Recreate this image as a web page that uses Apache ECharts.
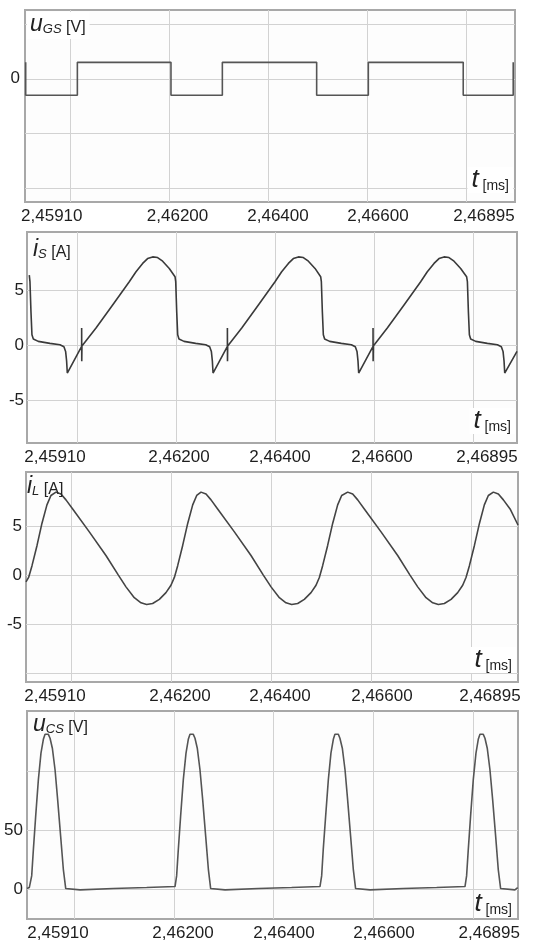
<!DOCTYPE html>
<html><head><meta charset="utf-8">
<script src="https://cdn.jsdelivr.net/npm/echarts@6/dist/echarts.min.js"></script>
<style>html,body{margin:0;padding:0;background:#fff}#c{width:547px;height:942px}</style>
</head><body><div id="c"></div>
<script>
// ---- x axis (time, in grid divisions) ----
const xTickLabels = ['2,45910', '2,46200', '2,46400', '2,46600', '2,46895'];
const xGridDivisions = [0, 1, 2, 3, 4];
const xLabelPosGS = [-0.184, 1.084, 2.097, 3.105, 4.173];
const xLabelPosIS = [-0.225, 1.027, 2.047, 3.078, 4.138];
const xLabelPosIL = [-0.160, 1.088, 2.086, 3.104, 4.182];
const xLabelPosCS = [-0.160, 1.092, 2.104, 3.106, 4.160];

// ---- y axis ticks / labels ----
const yTicksGS = [-100, -50, 0, 50];   const yLabelsGS = [0];
const yTicksIS = [-5, 0, 5];           const yLabelsIS = [-5, 0, 5];
const yTicksIL = [-10, -5, 0, 5];      const yLabelsIL = [-5, 0, 5];
const yTicksCS = [0, 50, 100];         const yLabelsCS = [0, 50];

// ---- u_GS [V] ----
const uGS_t = [-0.447, -0.447, 0.074, 0.074, 1.018, 1.018, 1.536, 1.536, 2.487, 2.487, 3.008, 3.008, 3.965, 3.965, 4.469, 4.469];
const uGS_v = [15, -15, -15, 15, 15, -15, -15, 15, 15, -15, -15, 15, 15, -15, -15, 15];

// ---- i_S [A] ----
const iS_t = [
  -0.485, -0.478, -0.468, -0.458, -0.444, -0.394, -0.276, -0.175, -0.135, -0.118, -0.108, -0.101, 0.044, 0.044, 0.045, 0.047, 0.189, 0.357, 0.525, 0.593, 0.660, 0.710, 0.761, 0.811, 0.862, 0.929, 0.987,
  0.987, 0.994, 1.004, 1.014, 1.027, 1.078, 1.196, 1.297, 1.337, 1.354, 1.364, 1.371, 1.516, 1.516, 1.517, 1.519, 1.661, 1.829, 1.997, 2.064, 2.132, 2.182, 2.233, 2.283, 2.334, 2.401, 2.458,
  2.458, 2.465, 2.475, 2.485, 2.498, 2.549, 2.667, 2.768, 2.808, 2.825, 2.835, 2.842, 2.987, 2.987, 2.988, 2.990, 3.131, 3.300, 3.468, 3.535, 3.603, 3.653, 3.704, 3.754, 3.805, 3.872, 3.932,
  3.933, 3.940, 3.950, 3.960, 3.973, 4.024, 4.142, 4.243, 4.283, 4.300, 4.310, 4.317, 4.441
];
const iS_v = [
  6.35, 5.75, 3.05, 0.96, 0.57, 0.36, 0.18, 0.06, -0.12, -0.55, -1.40, -2.50, -0.10, 1.56, -1.44, -0.05, 1.56, 3.65, 5.75, 6.65, 7.40, 7.84, 7.99, 7.93, 7.60, 6.95, 6.20,
  6.35, 5.75, 3.05, 0.96, 0.57, 0.36, 0.18, 0.06, -0.12, -0.55, -1.40, -2.50, -0.10, 1.56, -1.44, -0.05, 1.56, 3.65, 5.75, 6.65, 7.40, 7.84, 7.99, 7.93, 7.60, 6.95, 6.20,
  6.35, 5.75, 3.05, 0.96, 0.57, 0.36, 0.18, 0.06, -0.12, -0.55, -1.40, -2.50, -0.10, 1.56, -1.44, -0.05, 1.56, 3.65, 5.75, 6.65, 7.40, 7.84, 7.99, 7.93, 7.60, 6.95, 6.20,
  6.35, 5.75, 3.05, 0.96, 0.57, 0.36, 0.18, 0.06, -0.12, -0.55, -1.40, -2.50, -0.55
];

// ---- i_L [A] ----
const iL_t = [
  -0.449, -0.423, -0.389, -0.339, -0.290, -0.240, -0.200,
  -0.150, -0.100, -0.050, 0.017, 0.183, 0.349, 0.473, 0.549, 0.632, 0.699, 0.755, 0.815, 0.882, 0.948, 0.998, 1.032, 1.065, 1.115, 1.165, 1.215, 1.255,
  1.298, 1.348, 1.398, 1.464, 1.631, 1.797, 1.920, 1.997, 2.080, 2.146, 2.203, 2.263, 2.329, 2.396, 2.446, 2.479, 2.512, 2.562, 2.612, 2.662, 2.702,
  2.762, 2.812, 2.862, 2.928, 3.095, 3.261, 3.384, 3.461, 3.544, 3.611, 3.667, 3.727, 3.794, 3.860, 3.910, 3.943, 3.977, 4.027, 4.077, 4.126, 4.166,
  4.216, 4.266, 4.316, 4.383, 4.462
];
const iL_v = [
  -0.69, -0.24, 0.96, 3.02, 5.26, 7.15, 8.11,
  8.45, 8.25, 7.66, 6.74, 4.40, 1.99, 0, -1.20, -2.30, -2.82, -2.99, -2.89, -2.47, -1.79, -1.03, -0.24, 0.96, 3.02, 5.26, 7.15, 8.11,
  8.45, 8.25, 7.66, 6.74, 4.40, 1.99, 0, -1.20, -2.30, -2.82, -2.99, -2.89, -2.47, -1.79, -1.03, -0.24, 0.96, 3.02, 5.26, 7.15, 8.11,
  8.45, 8.25, 7.66, 6.74, 4.40, 1.99, 0, -1.20, -2.30, -2.82, -2.99, -2.89, -2.47, -1.79, -1.03, -0.24, 0.96, 3.02, 5.26, 7.15, 8.11,
  8.45, 8.25, 7.66, 6.74, 5.10
];

// ---- u_CS [V] ----
const uCS_t = [
  -0.471, -0.448,
  -0.441, -0.424, -0.407, -0.384, -0.357, -0.331, -0.307, -0.290, -0.274, -0.257, -0.240, -0.217, -0.190, -0.164, -0.134, -0.107, -0.083, -0.073,
  0.060, 0.394, 0.728,
  1.012, 1.028, 1.045, 1.068, 1.095, 1.122, 1.145, 1.162, 1.179, 1.195, 1.212, 1.235, 1.262, 1.289, 1.319, 1.346, 1.369, 1.379,
  1.513, 1.846, 2.180,
  2.464, 2.481, 2.497, 2.521, 2.548, 2.574, 2.598, 2.614, 2.631, 2.648, 2.664, 2.688, 2.715, 2.741, 2.771, 2.798, 2.821, 2.831,
  2.965, 3.299, 3.633,
  3.917, 3.933, 3.950, 3.973, 4.000, 4.027, 4.050, 4.067, 4.083, 4.100, 4.117, 4.140, 4.167, 4.194, 4.224, 4.250, 4.274, 4.284,
  4.417, 4.445
];
const uCS_v = [
  0.56, 1.41,
  2.25, 11.3, 33.8, 62.0, 93.0, 115.5, 127.3, 131.5, 132.4, 131.5, 128.2, 119.7, 101.4, 76.1, 45.1, 16.9, 0.56, -0.56,
  -0.56, 0.56, 1.41,
  2.25, 11.3, 33.8, 62.0, 93.0, 115.5, 127.3, 131.5, 132.4, 131.5, 128.2, 119.7, 101.4, 76.1, 45.1, 16.9, 0.56, -0.56,
  -0.56, 0.56, 1.41,
  2.25, 11.3, 33.8, 62.0, 93.0, 115.5, 127.3, 131.5, 132.4, 131.5, 128.2, 119.7, 101.4, 76.1, 45.1, 16.9, 0.56, -0.56,
  -0.56, 0.56, 1.41,
  2.25, 11.3, 33.8, 62.0, 93.0, 115.5, 127.3, 131.5, 132.4, 131.5, 128.2, 119.7, 101.4, 76.1, 45.1, 16.9, 0.56, -0.56,
  -0.56, 1.41
];

// ---- build ----
const FONT = 'Liberation Sans, Arial, sans-serif';
const zip = (t, v) => t.map((x, i) => [x, v[i]]);

const panels = [
  {grid: {left: 25, top: 10, width: 490, height: 192}, xMin: -0.454, xMax: 4.487, yMin: -112.5, yMax: 62.8,
   yTicks: yTicksGS, yLabels: yLabelsGS, xLab: xLabelPosGS, data: zip(uGS_t, uGS_v), color: '#555', yMargin: 5},
  {grid: {left: 27, top: 232, width: 490, height: 211}, xMin: -0.508, xMax: 4.441, yMin: -8.82, yMax: 10.24,
   yTicks: yTicksIS, yLabels: yLabelsIS, xLab: xLabelPosIS, data: zip(iS_t, iS_v), color: '#3a3a3a', yMargin: 3},
  {grid: {left: 26, top: 472, width: 492, height: 210}, xMin: -0.449, xMax: 4.462, yMin: -10.89, yMax: 10.5,
   yTicks: yTicksIL, yLabels: yLabelsIL, xLab: xLabelPosIL, data: zip(iL_t, iL_v), color: '#444', yMargin: 4},
  {grid: {left: 27, top: 711, width: 491, height: 209}, xMin: -0.471, xMax: 4.448, yMin: -25.3, yMax: 151.3,
   yTicks: yTicksCS, yLabels: yLabelsCS, xLab: xLabelPosCS, data: zip(uCS_t, uCS_v), color: '#555', yMargin: 4}
];

function mkFmt(pos) {
  return function (v) {
    let best = 0, bd = 1e9;
    pos.forEach((p, i) => { const d = Math.abs(p - v); if (d < bd) { bd = d; best = i; } });
    return xTickLabels[best];
  };
}

const grids = [], xAxes = [], yAxes = [], series = [];
panels.forEach((p, i) => {
  grids.push(Object.assign({show: true, borderColor: '#a8a8a8', borderWidth: 2, backgroundColor: '#fdfdfd', containLabel: false}, p.grid));
  xAxes.push({
    type: 'value', gridIndex: i, min: p.xMin, max: p.xMax,
    axisLine: {show: false},
    axisTick: {show: false, customValues: xGridDivisions},
    splitLine: {show: true, lineStyle: {color: '#d2d2d2', width: 1}},
    axisLabel: {customValues: p.xLab, formatter: mkFmt(p.xLab), color: '#1e1e1e', fontSize: 17, fontFamily: FONT, margin: 6}
  });
  yAxes.push({
    type: 'value', gridIndex: i, min: p.yMin, max: p.yMax,
    axisLine: {show: false},
    axisTick: {show: false, customValues: p.yTicks},
    splitLine: {show: true, lineStyle: {color: '#d2d2d2', width: 1}},
    axisLabel: {customValues: p.yLabels, color: '#1e1e1e', fontSize: 17, fontFamily: FONT, margin: p.yMargin}
  });
  series.push({
    type: 'line', xAxisIndex: i, yAxisIndex: i, data: p.data, showSymbol: false, symbol: 'none',
    lineStyle: {color: p.color, width: 1.6}, clip: true, animation: false
  });
});

const richQ = {
  q: {fontFamily: FONT, fontStyle: 'italic', fontWeight: 'normal', fontSize: 23, color: '#222', lineHeight: 24, verticalAlign: 'bottom'},
  s: {fontFamily: FONT, fontStyle: 'italic', fontWeight: 'normal', fontSize: 13, color: '#222', lineHeight: 8, verticalAlign: 'bottom'},
  b: {fontFamily: FONT, fontWeight: 'normal', fontSize: 16, color: '#222', lineHeight: 24, verticalAlign: 'bottom'}
};
const richT = {
  t: {fontFamily: FONT, fontStyle: 'italic', fontWeight: 'normal', fontSize: 26, color: '#222', lineHeight: 24, verticalAlign: 'bottom'},
  m: {fontFamily: FONT, fontWeight: 'normal', fontSize: 14, color: '#222', lineHeight: 18, verticalAlign: 'bottom'}
};
function qTitle(text, left, top, bg) {
  return {text: text, left: left, top: top, padding: [1, 4, 3, 3], backgroundColor: bg,
          textStyle: {fontWeight: 'normal', rich: richQ}};
}
function tTitle(right, top, bg) {
  return {text: '{t|t}{m| [ms]}', right: right, top: top, padding: [0, 4, 0, 4], backgroundColor: bg,
          textStyle: {fontWeight: 'normal', rich: richT}};
}

const chart = echarts.init(document.getElementById('c'), null, {renderer: 'canvas'});
chart.setOption({
  animation: false,
  backgroundColor: '#fff',
  title: [
    qTitle('{q|u}{s|GS}{b| [V]}', 27, 11, '#fff'),
    qTitle('{q|i}{s|S}{b| [A]}', 30, 236, 'transparent'),
    qTitle('{q|i}{s|L}{b| [A]}', 24, 473, 'transparent'),
    qTitle('{q|u}{s|CS}{b| [V]}', 30, 711, 'transparent'),
    tTitle(34, 169, '#fff'),
    tTitle(32, 410, '#fff'),
    tTitle(31, 649, '#fff'),
    tTitle(31, 893, 'transparent')
  ],
  grid: grids, xAxis: xAxes, yAxis: yAxes, series: series
});
</script></body></html>
